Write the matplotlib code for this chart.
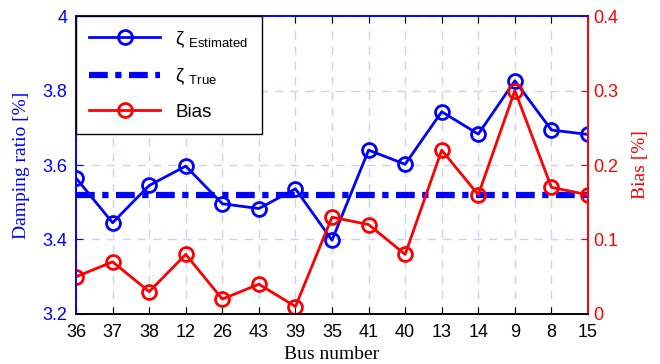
import numpy as np
import matplotlib
matplotlib.use('Agg')
import matplotlib.pyplot as plt

plt.rcParams['font.family'] = ['Liberation Sans', 'DejaVu Sans']
plt.rcParams['mathtext.fontset'] = 'custom'
plt.rcParams['mathtext.rm'] = 'Liberation Sans'
plt.rcParams['mathtext.it'] = 'Liberation Sans:italic'

bus_numbers = ['36', '37', '38', '12', '26', '43', '39', '35', '41', '40', '13', '14', '9', '8', '15']
zeta_estimated = [3.565, 3.445, 3.545, 3.597, 3.496, 3.483, 3.536, 3.398, 3.640, 3.602,
                  3.743, 3.683, 3.826, 3.694, 3.682]
zeta_true = 3.52
bias = [0.05, 0.07, 0.03, 0.08, 0.02, 0.04, 0.01, 0.13, 0.12, 0.08,
        0.22, 0.16, 0.30, 0.17, 0.16]

x = np.arange(len(bus_numbers))

fig = plt.figure(figsize=(6.6, 3.64), dpi=100)
ax = fig.add_axes([0.1152, 0.1374, 0.7757, 0.8186])
ax2 = ax.twinx()

l1, = ax.plot(x, zeta_estimated, '-o', color='#0000ff', lw=2, ms=10, mfc='none', mew=2,
              label='ζ $_{\\mathrm{Estimated}}$')
l2, = ax.plot(x, [zeta_true] * len(x), linestyle=(0, (3, 1.2, 1, 1.2)), color='#0000ff', lw=4.5,
              label='ζ $_{\\mathrm{True}}$')
l3, = ax2.plot(x, bias, '-o', color='#ff0000', lw=2, ms=10, mfc='none', mew=2, label='Bias')

ax.set_xlim(0, len(x) - 1)
ax.set_ylim(3.2, 4)
ax2.set_ylim(0, 0.4)
ax.set_xticks(x)
ax.set_xticklabels(bus_numbers)
ax.set_yticks([3.2, 3.4, 3.6, 3.8, 4.0])
ax.set_yticklabels(['3.2', '3.4', '3.6', '3.8', '4'])
ax2.set_yticks([0, 0.1, 0.2, 0.3, 0.4])
ax2.set_yticklabels(['0', '0.1', '0.2', '0.3', '0.4'])

ax.grid(True, color='#d0d0f4', linestyle=(0, (6, 5)), lw=1)
ax.tick_params(axis='x', direction='in', top=True, labelsize=13, colors='black', length=5, pad=7)
ax.tick_params(axis='y', direction='in', labelsize=13, colors='#0000ff', length=5, pad=6)
ax2.tick_params(axis='y', direction='in', labelsize=13, colors='#ff0000', length=5, pad=4)

for a in (ax, ax2):
    a.spines['left'].set_color('#0000ff')
    a.spines['top'].set_color('#0000ff')
    a.spines['right'].set_color('#ff0000')
    a.spines['bottom'].set_color('black')
    for s in a.spines.values():
        s.set_linewidth(1.2)

serif = ['Liberation Serif', 'DejaVu Serif']
ax.set_xlabel('Bus number', fontsize=14, family=serif, labelpad=4)
ax.set_ylabel('Damping ratio [%]', fontsize=14, family=serif, color='#0000ff', labelpad=9)
ax2.set_ylabel('Bias [%]', fontsize=14, family=serif, color='#ff0000', labelpad=10)

leg = ax2.legend(handles=[l1, l2, l3], loc='upper left', fontsize=13.5, handlelength=3.8,
                 fancybox=False, edgecolor='black', framealpha=1, borderaxespad=0,
                 labelspacing=0.9, borderpad=0.7)
leg.get_frame().set_linewidth(1)

fig.savefig('out.png', dpi=100)
